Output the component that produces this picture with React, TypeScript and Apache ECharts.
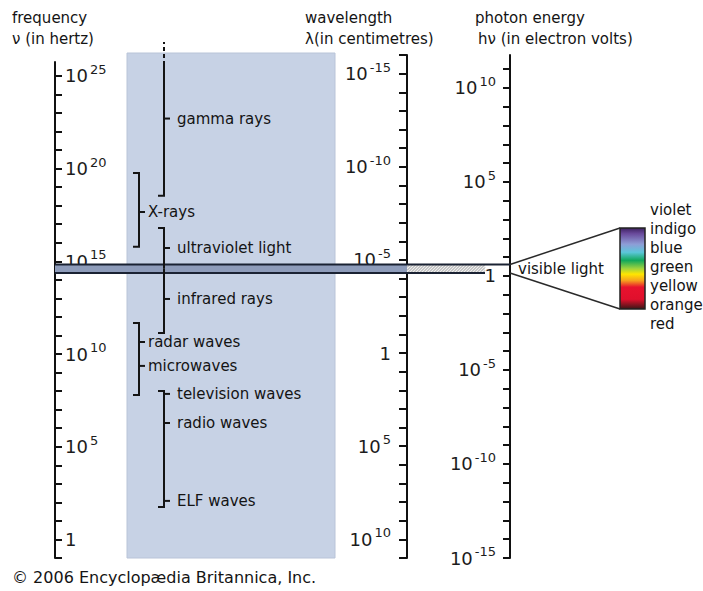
import React, { useEffect, useRef } from "react";
import * as echarts from "echarts";

// ---------- data ----------
// axis label exponents (powers of ten)
const freqLabelExponents = [0, 5, 10, 15, 20, 25];
const wavelengthLabelExponents = [-15, -10, -5, 0, 5, 10];
const energyLabelExponents = [-15, -10, -5, 0, 5, 10];

// axis ranges (exponents of ten)
const freqRange = [-1, 25.75];
const wavelengthRange = [-16, 11];
const energyRange = [-15, 11.75];

// radiation types: names and where their label sits (log10 Hz)
const bandNames = [
  "gamma rays",
  "X-rays",
  "ultraviolet light",
  "infrared rays",
  "radar waves",
  "microwaves",
  "television waves",
  "radio waves",
  "ELF waves",
];
const bandLabelLogHz = [22.7, 17.66, 15.72, 12.97, 10.65, 9.36, 7.85, 6.28, 2.08];

// bracket extents (log10 Hz)
const bracketNames = [
  "gamma rays",
  "X-rays",
  "ultraviolet light",
  "infrared rays",
  "radar waves / microwaves",
  "television / radio / ELF waves",
];
const bracketHighLogHz = [25.59, 19.77, 16.8, 14.6, 11.68, 8.01];
const bracketLowLogHz = [18.53, 15.78, 14.6, 11.14, 7.79, 1.75];
const gammaOpenEndLogHz = 26.83;

// visible light (log10 Hz)
const visibleLowLogHz = 14.37;
const visibleHighLogHz = 14.83;

const spectrumColourNames = ["violet", "indigo", "blue", "green", "yellow", "orange", "red"];

// ---------- layout ----------
const FONT = "DejaVu Sans";
const INK = "#141414";
const FREQ_AXIS_X = 55;
const WAVE_AXIS_X = 407;
const ENERGY_AXIS_X = 510;
const BRACKET_X = [139, 164];
const bracketColumn = [1, 0, 1, 1, 0, 1];
const bracketHookTop = [false, true, true, false, true, true];
const bracketHookBottom = [true, true, false, true, true, true];
const labelColumn = [1, 0, 1, 1, 0, 0, 1, 1, 1];
const LABEL_TEXT_X = [148, 177];
const HATCH_END_X = 485;
const SPEC = { x: 620, y: 228, w: 25, h: 81 };

const ticksBetween = (a: number, b: number) => {
  const out: number[] = [];
  for (let v = a; v <= b; v++) out.push(v);
  return out;
};

const powLabel = (v: number) => (v === 0 ? "{b|1}" : `{b|10}{s|${v}}`);
const richPow = {
  b: { fontSize: 18, fontFamily: FONT, color: "#1c1c1c", lineHeight: 26, verticalAlign: "middle" },
  s: { fontSize: 13, fontFamily: FONT, color: "#1c1c1c", lineHeight: 13, verticalAlign: "top", padding: [0, 0, 0, 2] },
};

const renderBracket = (params: any, api: any) => {
  const i = params.dataIndex;
  const x = BRACKET_X[bracketColumn[i]];
  const yHi = api.coord([0, api.value(1)])[1];
  const yLo = api.coord([0, api.value(2)])[1];
  const pts: number[][] = [];
  if (bracketHookTop[i]) pts.push([x - 6, yHi]);
  pts.push([x, yHi], [x, yLo]);
  if (bracketHookBottom[i]) pts.push([x - 6, yLo]);
  const children: any[] = [
    { type: "polyline", shape: { points: pts }, style: { stroke: INK, lineWidth: 2, fill: null } },
  ];
  if (i === 0) {
    const yEnd = api.coord([0, gammaOpenEndLogHz])[1];
    children.push({
      type: "line",
      shape: { x1: x, y1: yHi, x2: x, y2: yEnd },
      style: { stroke: INK, lineWidth: 2, lineDash: [4, 3] },
    });
  }
  return { type: "group", children };
};

const renderLabel = (params: any, api: any) => {
  const i = params.dataIndex;
  const col = labelColumn[i];
  const x = BRACKET_X[col];
  const y = api.coord([0, api.value(1)])[1];
  return {
    type: "group",
    children: [
      { type: "line", shape: { x1: x, y1: y, x2: x + 6, y2: y }, style: { stroke: INK, lineWidth: 2 } },
      {
        type: "text",
        x: LABEL_TEXT_X[col],
        y: y,
        style: { text: bandNames[i], fontSize: 15, fontFamily: FONT, fill: INK, align: "left", verticalAlign: "middle" },
      },
    ],
  };
};

const renderVisible = (params: any, api: any) => {
  const yHi = api.coord([0, api.value(2)])[1];
  const yLo = api.coord([0, api.value(1)])[1];
  const h = yLo - yHi;
  const children: any[] = [];
  children.push({
    type: "rect",
    shape: { x: FREQ_AXIS_X, y: yHi, width: WAVE_AXIS_X - FREQ_AXIS_X, height: h },
    style: { fill: "#8e9cba" },
  });
  children.push({
    type: "rect",
    shape: { x: WAVE_AXIS_X, y: yHi, width: HATCH_END_X - WAVE_AXIS_X, height: h },
    style: { fill: "#efefef" },
  });
  for (let k = WAVE_AXIS_X - h; k < HATCH_END_X; k += 3) {
    let x1 = k, y1 = yLo, x2 = k + h, y2 = yHi;
    if (x1 < WAVE_AXIS_X) { y1 = yLo - (WAVE_AXIS_X - k); x1 = WAVE_AXIS_X; }
    if (x2 > HATCH_END_X) { y2 = yLo - (HATCH_END_X - k); x2 = HATCH_END_X; }
    children.push({ type: "line", shape: { x1, y1, x2, y2 }, style: { stroke: "#a0a0a0", lineWidth: 1 } });
  }
  children.push({
    type: "line",
    shape: { x1: FREQ_AXIS_X, y1: yHi, x2: ENERGY_AXIS_X, y2: yHi },
    style: { stroke: "#1a2233", lineWidth: 2 },
  });
  children.push({
    type: "line",
    shape: { x1: FREQ_AXIS_X, y1: yLo, x2: HATCH_END_X, y2: yLo },
    style: { stroke: "#1a2233", lineWidth: 2 },
  });
  children.push({
    type: "line",
    shape: { x1: ENERGY_AXIS_X, y1: yHi, x2: SPEC.x, y2: SPEC.y },
    style: { stroke: "#2a2a2a", lineWidth: 1.5 },
  });
  children.push({
    type: "line",
    shape: { x1: ENERGY_AXIS_X, y1: yLo, x2: SPEC.x, y2: SPEC.y + SPEC.h },
    style: { stroke: "#2a2a2a", lineWidth: 1.5 },
  });
  return { type: "group", children };
};

const textEl = (text: string, x: number, y: number, size = 15, extra: any = {}) => ({
  type: "text",
  x,
  y,
  style: { text, fontSize: size, fontFamily: FONT, fill: INK, align: "left", verticalAlign: "middle", ...extra },
});

export default function App() {
  const ref = useRef<HTMLDivElement>(null);
  useEffect(() => {
    if (!ref.current) return;
    const chart = echarts.init(ref.current, null, { renderer: "svg" });
    const hiddenX = (gridIndex: number, max: number) => ({
      gridIndex,
      type: "value",
      min: 0,
      max,
      show: false,
    });
    const axisCommon = {
      type: "value",
      splitLine: { show: false },
      axisLine: { show: true, onZero: false, lineStyle: { color: "#111", width: 2 } },
    };
    chart.setOption({
      animation: false,
      backgroundColor: "#ffffff",
      grid: [
        { left: 55, top: 62, width: 455, height: 496 },
        { left: 300, top: 55, width: 107, height: 503 },
        { left: 410, top: 55, width: 100, height: 503 },
      ],
      xAxis: [hiddenX(0, 455), hiddenX(1, 1), hiddenX(2, 1)],
      yAxis: [
        {
          ...axisCommon,
          gridIndex: 0,
          position: "left",
          min: freqRange[0],
          max: freqRange[1],
          axisTick: { inside: true, length: 7, customValues: ticksBetween(-1, 25), lineStyle: { color: "#111", width: 2 } },
          axisLabel: { inside: true, margin: 10, customValues: freqLabelExponents, formatter: powLabel, rich: richPow },
        },
        {
          ...axisCommon,
          gridIndex: 1,
          position: "right",
          inverse: true,
          min: wavelengthRange[0],
          max: wavelengthRange[1],
          axisTick: { inside: true, length: 8, customValues: ticksBetween(-16, 11), lineStyle: { color: "#111", width: 2 } },
          axisLabel: { inside: true, margin: 16, customValues: wavelengthLabelExponents, formatter: powLabel, rich: richPow },
        },
        {
          ...axisCommon,
          gridIndex: 2,
          position: "right",
          min: energyRange[0],
          max: energyRange[1],
          axisTick: { inside: true, length: 7, customValues: ticksBetween(-15, 11), lineStyle: { color: "#111", width: 2 } },
          axisLabel: { inside: true, margin: 14, customValues: energyLabelExponents, formatter: powLabel, rich: richPow },
        },
      ],
      series: [
        {
          type: "custom",
          name: "visible light",
          xAxisIndex: 0,
          yAxisIndex: 0,
          z: 3,
          renderItem: renderVisible,
          encode: { x: 0, y: [1, 2] },
          data: [[0, visibleLowLogHz, visibleHighLogHz]],
        },
        {
          type: "custom",
          name: "ranges",
          xAxisIndex: 0,
          yAxisIndex: 0,
          z: 4,
          renderItem: renderBracket,
          encode: { x: 0, y: [1, 2] },
          data: bracketNames.map((_, i) => [0, bracketHighLogHz[i], bracketLowLogHz[i]]),
        },
        {
          type: "custom",
          name: "labels",
          xAxisIndex: 0,
          yAxisIndex: 0,
          z: 4,
          renderItem: renderLabel,
          encode: { x: 0, y: 1 },
          data: bandLabelLogHz.map((v) => [0, v]),
        },
      ],
      graphic: [
        {
          type: "rect",
          z: 0,
          silent: true,
          shape: { x: 127, y: 53, width: 208, height: 505 },
          style: { fill: "#c7d2e5", stroke: "#b9c4d8", lineWidth: 1 },
        },
        {
          type: "rect",
          z: 1,
          shape: { x: SPEC.x, y: SPEC.y, width: SPEC.w, height: SPEC.h },
          style: {
            stroke: "#222",
            lineWidth: 1.5,
            fill: {
              type: "linear",
              x: 0,
              y: 0,
              x2: 0,
              y2: 1,
              colorStops: [
                { offset: 0, color: "#3d2160" },
                { offset: 0.07, color: "#6a4a9c" },
                { offset: 0.2, color: "#8e9dd6" },
                { offset: 0.3, color: "#5cc6da" },
                { offset: 0.4, color: "#11a85c" },
                { offset: 0.5, color: "#9ed23e" },
                { offset: 0.57, color: "#ffe600" },
                { offset: 0.65, color: "#f6a01e" },
                { offset: 0.73, color: "#e8122e" },
                { offset: 0.88, color: "#e0102c" },
                { offset: 1, color: "#3a1616" },
              ],
            },
          },
        },
        ...spectrumColourNames.map((n, i) => textEl(n, 650, 210 + i * 19)),
        textEl("visible light", 518, 269),
        textEl("frequency", 12, 18),
        textEl("ν (in hertz)", 12, 39),
        textEl("wavelength", 305, 18),
        textEl("λ(in centimetres)", 305, 39),
        textEl("photon energy", 475, 18),
        textEl("hν (in electron volts)", 478, 39),
        textEl("© 2006 Encyclopædia Britannica, Inc.", 12, 577, 16),
      ],
    });
    return () => chart.dispose();
  }, []);
  return (
    <div
      ref={ref}
      style={{ position: "fixed", left: 0, top: 0, width: 703, height: 591, background: "#fff" }}
    />
  );
}
